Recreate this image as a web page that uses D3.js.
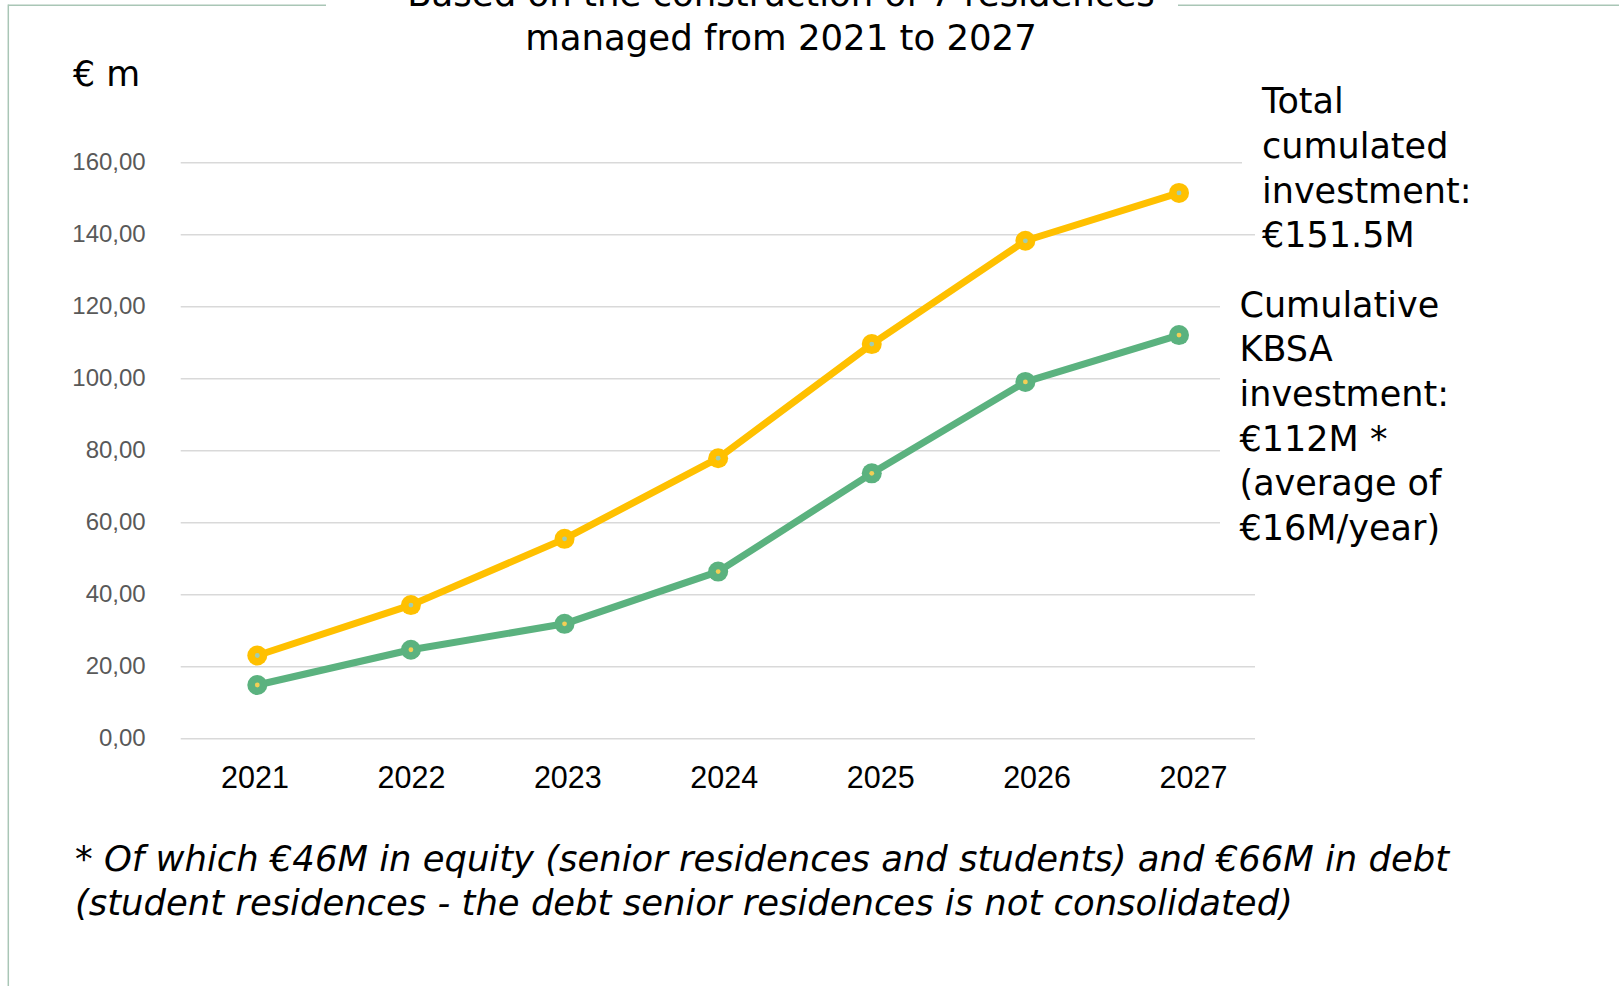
<!DOCTYPE html>
<html>
<head>
<meta charset="utf-8">
<script src="https://cdn.jsdelivr.net/npm/d3@7"></script>
<style>
  html, body { margin: 0; padding: 0; background: #fff; }
  svg { display: block; }
</style>
</head>
<body>
<svg id="chart" width="1619" height="986"></svg>
<script>
// Cumulated investment, € millions
const years = ["2021", "2022", "2023", "2024", "2025", "2026", "2027"];
const totalInvestment = [23.0, 37.0, 55.4, 77.8, 109.5, 138.2, 151.5];
const kbsaInvestment = [14.8, 24.6, 31.8, 46.3, 73.6, 99.0, 112.0];
const yTicks = [0, 20, 40, 60, 80, 100, 120, 140, 160];

const titleLines = ["Based on the construction of 7 residences", "managed from 2021 to 2027"];
const unitLabel = "€ m";
const totalNote = ["Total", "cumulated", "investment:", "€151.5M"];
const kbsaNote = ["Cumulative", "KBSA", "investment:", "€112M *", "(average of", "€16M/year)"];
const footnoteLines = [
  "* Of which €46M in equity (senior residences and students) and €66M in debt",
  "(student residences - the debt senior residences is not consolidated)"
];

const W = 1619, H = 986;
const TEXT_FONT = "'DejaVu Sans', 'Open Sans', sans-serif";
const NUM_FONT = "'Liberation Sans', Arial, sans-serif";
const COLORS = { total: "#FFC000", kbsa: "#5BB27F", totalDot: "#9FCDB4", kbsaDot: "#F3CF55", grid: "#D9D9D9", frame: "#A9C6B6" };

const svg = d3.select("#chart");
svg.append("rect").attr("width", W).attr("height", H).attr("fill", "#fff");

// Scales
const plot = { left: 180.7, right: 1255, top: 162.3, bottom: 738.3 };
const x = d3.scalePoint().domain(years).range([257.3, 1179]);
const xLabel = d3.scalePoint().domain(years).range([254.5, 1193]);
const y = d3.scaleLinear().domain([0, 160]).range([plot.bottom, plot.top]);

const locale = d3.formatLocale({ decimal: ",", thousands: ".", grouping: [3], currency: ["", "€"] });
const fmt = locale.format(".2f");

// Frame
svg.append("line").attr("x1", 8.3).attr("x2", W).attr("y1", 5.3).attr("y2", 5.3)
  .attr("stroke", COLORS.frame).attr("stroke-width", 1.5);
svg.append("line").attr("x1", 8.3).attr("x2", 8.3).attr("y1", 4.6).attr("y2", H)
  .attr("stroke", COLORS.frame).attr("stroke-width", 1.5);

// Title block (first line runs off the top edge)
svg.append("rect").attr("x", 326).attr("y", 0).attr("width", 852).attr("height", 58).attr("fill", "#fff");
svg.append("text")
  .attr("x", 781).attr("y", 6)
  .attr("text-anchor", "middle")
  .style("font-family", TEXT_FONT).style("font-size", "35.5px").attr("fill", "#000")
  .selectAll("tspan").data(titleLines).join("tspan")
  .attr("x", 781).attr("dy", (d, i) => i === 0 ? 0 : 44.4)
  .text(d => d);

// Unit label
svg.append("text").attr("x", 73).attr("y", 86)
  .style("font-family", TEXT_FONT).style("font-size", "34.8px").attr("fill", "#000")
  .text(unitLabel);

// Y axis with gridlines
const yAxis = d3.axisLeft(y)
  .tickValues(yTicks)
  .tickSize(-(plot.right - plot.left))
  .tickPadding(35)
  .tickFormat(d => fmt(d));
const gy = svg.append("g").attr("transform", `translate(${plot.left},0)`).call(yAxis);
gy.select(".domain").remove();
gy.selectAll(".tick line").attr("stroke", COLORS.grid).attr("stroke-width", 1.4);
gy.selectAll(".tick text")
  .style("font-family", NUM_FONT).style("font-size", "24px").attr("fill", "#595959");

// X axis labels
const xAxis = d3.axisBottom(xLabel).tickSize(0).tickPadding(0);
const gx = svg.append("g").attr("transform", `translate(0,${plot.bottom})`).call(xAxis);
gx.select(".domain").remove();
gx.selectAll(".tick text")
  .attr("y", 50).attr("dy", 0)
  .style("font-family", NUM_FONT).style("font-size", "30.5px").attr("fill", "#000");

// Note boxes sit over the gridlines
svg.append("rect").attr("x", 1242).attr("y", 72).attr("width", W - 1242).attr("height", 138).attr("fill", "#fff");
svg.append("rect").attr("x", 1220).attr("y", 282).attr("width", W - 1220).attr("height", 278).attr("fill", "#fff");

// Series
const series = [
  { key: "total", values: totalInvestment, color: COLORS.total, dot: COLORS.totalDot },
  { key: "kbsa", values: kbsaInvestment, color: COLORS.kbsa, dot: COLORS.kbsaDot }
];
const line = d3.line().x((d, i) => x(years[i])).y(d => y(d));

const gs = svg.append("g").selectAll("g").data(series).join("g");
gs.append("path")
  .attr("d", d => line(d.values))
  .attr("fill", "none")
  .attr("stroke", d => d.color)
  .attr("stroke-width", 7)
  .attr("stroke-linejoin", "round")
  .attr("stroke-linecap", "round");
gs.each(function (s) {
  const g = d3.select(this);
  g.selectAll("circle.marker").data(s.values).join("circle")
    .attr("class", "marker")
    .attr("cx", (d, i) => x(years[i])).attr("cy", d => y(d))
    .attr("r", 10).attr("fill", s.color);
  g.selectAll("circle.core").data(s.values).join("circle")
    .attr("class", "core")
    .attr("cx", (d, i) => x(years[i])).attr("cy", d => y(d))
    .attr("r", 2.4).attr("fill", s.dot);
});

// Notes
function noteBlock(lines, x0, y0) {
  svg.append("text")
    .attr("x", x0).attr("y", y0)
    .style("font-family", TEXT_FONT).style("font-size", "35px").attr("fill", "#000")
    .selectAll("tspan").data(lines).join("tspan")
    .attr("x", x0).attr("dy", (d, i) => i === 0 ? 0 : 44.6)
    .text(d => d);
}
noteBlock(totalNote, 1262, 113.3);
noteBlock(kbsaNote, 1239.5, 316.7);

// Footnote
svg.append("text")
  .attr("x", 75).attr("y", 871)
  .style("font-family", TEXT_FONT).style("font-size", "35.4px").style("font-style", "italic").attr("fill", "#000")
  .selectAll("tspan").data(footnoteLines).join("tspan")
  .attr("x", 75).attr("dy", (d, i) => i === 0 ? 0 : 44.4)
  .text(d => d);
</script>
</body>
</html>
